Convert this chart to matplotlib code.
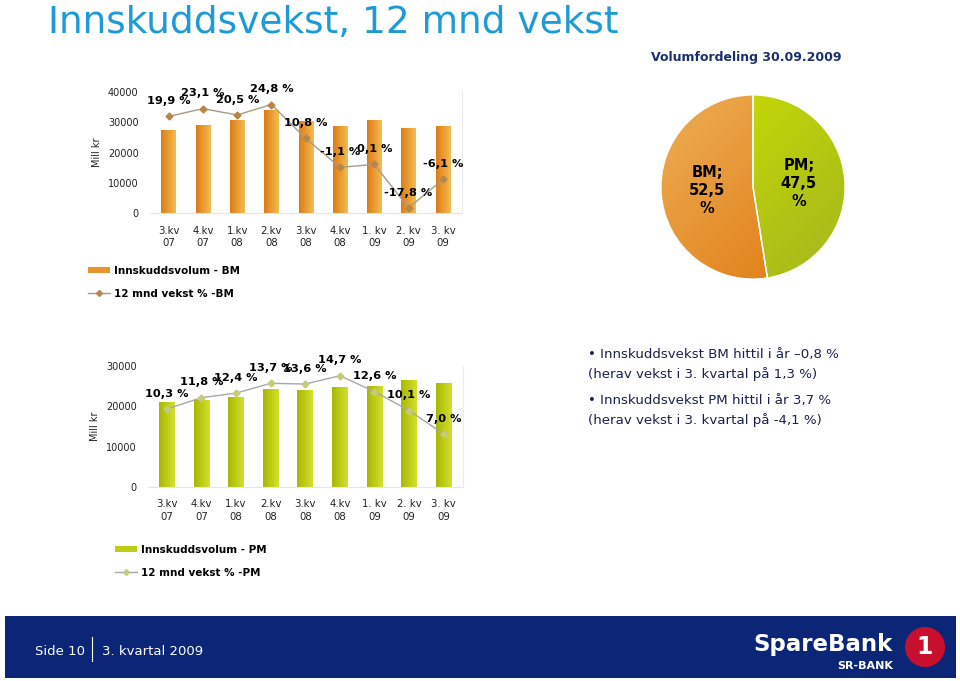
import numpy as np
import matplotlib
matplotlib.use('Agg')
import matplotlib.pyplot as plt
from matplotlib.colors import LinearSegmentedColormap
from matplotlib.patches import Patch, Rectangle, Ellipse
from matplotlib.lines import Line2D

# --- data ---
kvartaler = ['3.kv\n07', '4.kv\n07', '1.kv\n08', '2.kv\n08', '3.kv\n08',
             '4.kv\n08', '1. kv\n09', '2. kv\n09', '3. kv\n09']
bm_volum = [27100, 29000, 30500, 33900, 30200, 28700, 30500, 27900, 28400]
bm_vekst = [19.9, 23.1, 20.5, 24.8, 10.8, -1.1, 0.1, -17.8, -6.1]
pm_volum = [21000, 21500, 22100, 24200, 23900, 24600, 24900, 26500, 25600]
pm_vekst = [10.3, 11.8, 12.4, 13.7, 13.6, 14.7, 12.6, 10.1, 7.0]
fordeling_navn = ['PM', 'BM']
fordeling_andel = [47.5, 52.5]

plt.rcParams['font.family'] = 'DejaVu Sans'


def pst(v):
    return f'{v:.1f} %'.replace('.', ',')


def gradient_bars(ax, bars, c_left, c_right):
    # horisontal fargeovergang i hver søyle
    cmap = LinearSegmentedColormap.from_list('g', [c_left, c_right])
    grad = np.linspace(0, 1, 64).reshape(1, -1)
    for b in bars:
        x, w, h = b.get_x(), b.get_width(), b.get_height()
        ax.imshow(grad, cmap=cmap, extent=[x, x + w, 0, h], aspect='auto', zorder=2)
        b.set_facecolor('none')


def volum_chart(ax, volum, vekst, ymax, y2lim, c_left, c_right, line_c, mark_c, width):
    x = np.arange(len(volum))
    bars = ax.bar(x, volum, width=width, zorder=2)
    gradient_bars(ax, bars, c_left, c_right)
    ax.set_xlim(-0.55, len(volum) - 0.45)
    ax.set_ylim(0, ymax)
    ax.set_yticks(np.arange(0, ymax + 1, 10000))
    ax.set_xticks(x)
    ax.set_xticklabels(kvartaler, fontsize=7.3, color='#222222', linespacing=1.35)
    ax.tick_params(axis='y', labelsize=7, colors='#222222', length=0, pad=8)
    ax.tick_params(axis='x', length=0, pad=9)
    for s in ['top', 'left', 'right']:
        ax.spines[s].set_visible(False)
    ax.spines['bottom'].set_color('#e6e6e6')
    ax.set_ylabel('Mill kr', fontsize=7, color='#222222')

    ax2 = ax.twinx()
    ax2.plot(x, vekst, color=line_c, lw=1, marker='D', ms=3.5,
             mfc=mark_c, mec=mark_c, zorder=3)
    ax2.set_ylim(*y2lim)
    ax2.set_yticks([])
    for s in ['top', 'left', 'bottom']:
        ax2.spines[s].set_visible(False)
    ax2.spines['right'].set_color('#ececec')
    for xi, v in zip(x, vekst):
        ax2.annotate(pst(v), (xi, v), xytext=(0, 11), textcoords='offset points',
                     ha='center', va='center', fontsize=8.2, fontweight='bold')
    return ax2


fig = plt.figure(figsize=(9.6, 6.81), dpi=100)

# tittel
fig.text(0.05, 1 - 33 / 681, 'Innskuddsvekst, 12 mnd vekst', fontsize=27,
         color='#1E9AD6', va='baseline', ha='left')

# --- BM ---
ax_bm = fig.add_axes([0.156, 0.687, 0.325, 0.178])
volum_chart(ax_bm, bm_volum, bm_vekst, 40000, (-20, 30),
            '#DE7C14', '#F3BC52', '#A89A88', '#B8864A', 0.42)
ax_bm.legend(handles=[Patch(facecolor='#E89530', edgecolor='none'),
                      Line2D([], [], color='#A89A88', lw=1, marker='D', ms=3,
                             mfc='#B8864A', mec='#B8864A')],
             labels=['Innskuddsvolum - BM', '12 mnd vekst % -BM'],
             loc='upper left', bbox_to_anchor=(0.092, 0.610), bbox_transform=fig.transFigure,
             frameon=False, prop={'size': 7.5, 'weight': 'bold'}, handlelength=2.1,
             handleheight=0.6, handletextpad=0.4, labelspacing=1.25, borderpad=0,
             borderaxespad=0)

# --- PM ---
ax_pm = fig.add_axes([0.154, 0.285, 0.328, 0.1777])
volum_chart(ax_pm, pm_volum, pm_vekst, 30000, (0, 16),
            '#A8B800', '#D4E030', '#A8A8A8', '#C4CC78', 0.46)
ax_pm.legend(handles=[Patch(facecolor='#BFCC18', edgecolor='none'),
                      Line2D([], [], color='#A8A8A8', lw=1, marker='D', ms=3,
                             mfc='#C4CC78', mec='#C4CC78')],
             labels=['Innskuddsvolum - PM', '12 mnd vekst % -PM'],
             loc='upper left', bbox_to_anchor=(0.12, 0.200), bbox_transform=fig.transFigure,
             frameon=False, prop={'size': 7.5, 'weight': 'bold'}, handlelength=2.1,
             handleheight=0.6, handletextpad=0.4, labelspacing=1.25, borderpad=0,
             borderaxespad=0)

# --- kakediagram ---
fig.text(746 / 960, 1 - 58 / 681, 'Volumfordeling 30.09.2009', fontsize=9,
         fontweight='bold', color='#1B2F6E', ha='center', va='center')
ax_pie = fig.add_axes([660 / 960, 1 - 280 / 681, 186 / 960, 186 / 681])
etiketter = [f'{n};\n{pst(v)[:-2]}\n%' for n, v in zip(fordeling_navn, fordeling_andel)]
wedges, texts = ax_pie.pie(fordeling_andel, labels=etiketter, startangle=90, counterclock=False,
                           labeldistance=0.5, radius=1,
                           wedgeprops={'edgecolor': 'white', 'linewidth': 1},
                           textprops={'fontsize': 10.5, 'fontweight': 'bold', 'ha': 'center',
                                      'va': 'center', 'linespacing': 1.25})
gy, gx = np.mgrid[0:1:100j, 0:1:100j]
farger = {'PM': ('#CCE000', '#A4B61E'), 'BM': ('#EDAE55', '#DF780E')}
for w, n, t in zip(wedges, fordeling_navn, texts):
    cmap = LinearSegmentedColormap.from_list(n, farger[n])
    im = ax_pie.imshow((gx + gy) / 2, cmap=cmap, extent=[-1, 1, -1, 1], zorder=1)
    im.set_clip_path(w)
    w.set_facecolor('none')
    w.set_zorder(2)
    t.set_zorder(3)
ax_pie.set_xlim(-1.01, 1.01)
ax_pie.set_ylim(-1.01, 1.01)
ax_pie.set_aspect('equal')
ax_pie.axis('off')

# --- kulepunkter ---
punkter = ['\u2022 Innskuddsvekst BM hittil i år \u20130,8 %',
           '(herav vekst i 3. kvartal på 1,3 %)',
           '\u2022 Innskuddsvekst PM hittil i år 3,7 %',
           '(herav vekst i 3. kvartal på -4,1 %)']
for tekst, y in zip(punkter, [358, 378, 404, 424]):
    fig.text(588 / 960, 1 - y / 681, tekst, fontsize=9.6, color='#1A2050', va='baseline')

# --- bunnfelt ---
fig.patches.append(Rectangle((5 / 960, 1 - 678 / 681), 951 / 960, 62 / 681,
                             transform=fig.transFigure, facecolor='#0B2577', edgecolor='none'))
fig.text(35 / 960, 1 - 655 / 681, 'Side 10', fontsize=9.5, color='white', va='baseline')
fig.lines.append(Line2D([92 / 960, 92 / 960], [1 - 661 / 681, 1 - 637 / 681],
                        transform=fig.transFigure, color='white', lw=0.8))
fig.text(102 / 960, 1 - 655 / 681, '3. kvartal 2009', fontsize=9.5, color='white', va='baseline')
fig.text(893 / 960, 1 - 651 / 681, 'SpareBank', fontsize=16.5, fontweight='bold',
         color='white', ha='right', va='baseline')
fig.text(893 / 960, 1 - 669 / 681, 'SR-BANK', fontsize=8, fontweight='bold',
         color='white', ha='right', va='baseline')
fig.patches.append(Ellipse((925 / 960, 1 - 647 / 681), 40 / 960, 40 / 681,
                           transform=fig.transFigure, facecolor='#C8102E', edgecolor='none'))
fig.text(925 / 960, 1 - 647 / 681, '1', fontsize=17, fontweight='bold', color='white',
         ha='center', va='center')

fig.savefig('out.png', dpi=100)
